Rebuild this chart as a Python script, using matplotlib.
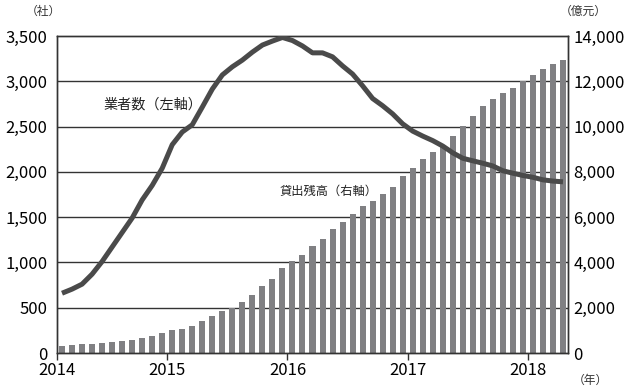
import matplotlib
matplotlib.use("Agg")
import matplotlib.pyplot as plt
import numpy as np

# monthly series, Feb 2014 - Apr 2018
lenders = [660, 705, 760, 870, 1010, 1170, 1330, 1490, 1690, 1850, 2040,
           2300, 2440, 2520, 2715, 2914, 3070, 3160, 3234, 3322, 3400, 3444,
           3484, 3450, 3390, 3314, 3314, 3270, 3170, 3080, 2950, 2810, 2730,
           2640, 2530, 2450, 2395, 2345, 2285, 2210, 2150, 2122, 2095, 2065,
           2012, 1985, 1960, 1940, 1912, 1898, 1890]
balance = [295, 353, 397, 397, 441, 486, 530, 574, 662, 750, 883,
           1010, 1045, 1177, 1405, 1619, 1840, 1987, 2245, 2546, 2950, 3252,
           3738, 4047, 4324, 4721, 5029, 5471, 5779, 6147, 6495, 6715, 7025,
           7335, 7831, 8184, 8582, 8878, 9085, 9585, 10027, 10468, 10910, 11219,
           11500, 11705, 12027, 12279, 12544, 12765, 12942]
years = ["2014", "2015", "2016", "2017", "2018"]
year_start = [-0.5, 10.5, 22.5, 34.5, 46.5]

W, H = 625, 390
jp_font = ["Noto Sans CJK JP", "DejaVu Sans"]
plt.rcParams["font.family"] = jp_font

fig = plt.figure(figsize=(W / 100, H / 100), dpi=100)
ax = fig.add_axes([57 / W, 1 - 353 / H, 511 / W, 317 / H])
ax2 = ax.twinx()

x = np.arange(len(balance))

# bars on the right axis, line on the left axis drawn on top
ax2.bar(x, balance, width=0.6, color="#808083", zorder=2)
ax2.set_ylim(0, 14000)
ax2.set_yticks(np.arange(0, 14001, 2000))
ax2.set_yticklabels([f"{v:,}" for v in range(0, 14001, 2000)], fontsize=12)
ax2.tick_params(axis="y", length=0, pad=4)

ax.set_ylim(0, 3500)
ax.set_yticks(np.arange(0, 3501, 500))
ax.set_yticklabels([f"{v:,}" for v in range(0, 3501, 500)], fontsize=12)
ax.tick_params(axis="y", length=0, pad=7)
ax.set_xlim(-0.5, len(balance) - 0.5)
ax.set_xticks(year_start)
ax.set_xticklabels(years, fontsize=12)
ax.tick_params(axis="x", length=5, width=1, color="#333333", pad=1.5)

for v in range(500, 3500, 500):
    ax2.axhline(v * 4, color="#333333", lw=1.0, zorder=1)

ax.set_zorder(ax2.get_zorder() + 1)
ax.patch.set_visible(False)
ax.plot(x, lenders, color="#4a4a4a", lw=3.6, solid_capstyle="butt",
        solid_joinstyle="round", zorder=3)

for a in (ax, ax2):
    for s in a.spines.values():
        s.set_color("#333333")
        s.set_linewidth(1.0)

fig.text(104 / W, 1 - 104 / H, "業者数（左軸）", fontsize=10.2,
         va="center", ha="left", color="#222222")
fig.text(280 / W, 1 - 191 / H, "貸出残高（右軸）", fontsize=8.8,
         va="center", ha="left", color="#222222")

# unit labels
fig.text(26 / W, 1 - 11 / H, "（社）", fontsize=8.5,
         va="center", ha="left", color="#333333")
fig.text(560 / W, 1 - 11 / H, "（億元）", fontsize=8.5,
         va="center", ha="left", color="#333333")
fig.text(573 / W, 1 - 380 / H, "（年）", fontsize=8.5,
         va="center", ha="left", color="#333333")

fig.savefig("out.png", dpi=100)
